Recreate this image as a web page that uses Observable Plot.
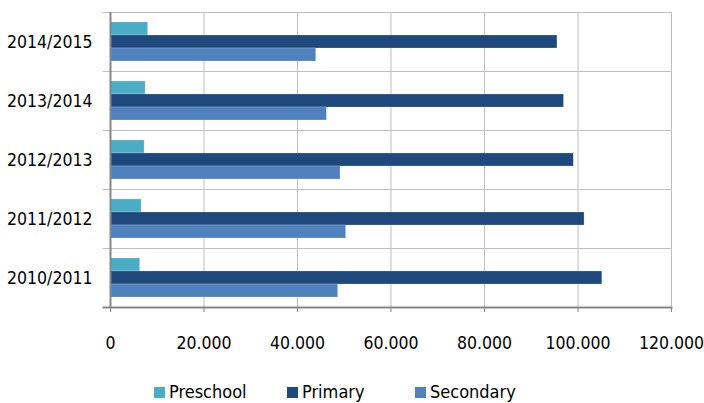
<!DOCTYPE html>
<html>
<head>
<meta charset="utf-8">
<script src="https://cdn.jsdelivr.net/npm/d3@7"></script>
<script src="https://cdn.jsdelivr.net/npm/@observablehq/plot@0.6"></script>
<style>
  html, body { margin: 0; padding: 0; background: #fff; }
  #wrap { position: relative; width: 704px; height: 403px; overflow: hidden; font-family: "DejaVu Sans Condensed", sans-serif; }
  #legend { position: absolute; left: 154px; top: 382px; display: flex; font-size: 18px; line-height: 20px; color: #000; }
  .item { display: flex; align-items: center; }
  .sw { width: 11px; height: 11px; margin-right: 4px; }
</style>
</head>
<body>
<div id="wrap"><div id="chart"></div><div id="legend"></div></div>
<script>
const years = ["2014/2015", "2013/2014", "2012/2013", "2011/2012", "2010/2011"];
const series = ["Preschool", "Primary", "Secondary"];
const preschool = [8050, 7500, 7300, 6650, 6350];
const primary = [95600, 97000, 99100, 101400, 105200];
const secondary = [44000, 46300, 49200, 50400, 48700];
const xTicks = [0, 20000, 40000, 60000, 80000, 100000, 120000];
const colors = ["#4BACC6", "#1F497D", "#4F81BD"];

const values = {Preschool: preschool, Primary: primary, Secondary: secondary};
const rows = [];
years.forEach((yr, i) => series.forEach(s => rows.push({year: yr, series: s, value: values[s][i]})));

const fmt = d => d3.format(",")(d).replace(/,/g, ".");
const font = '"DejaVu Sans Condensed", sans-serif';

const chart = Plot.plot({
  width: 704,
  height: 370,
  marginLeft: 110,
  marginRight: 33,
  marginTop: 11,
  marginBottom: 62,
  style: {fontFamily: font, fontSize: "17.5px", color: "#000", background: "#fff"},
  x: {domain: [0, 120000], ticks: xTicks},
  fy: {domain: years, padding: 0, label: null, axis: null},
  y: {domain: series, paddingInner: 0, paddingOuter: 0.76, axis: null},
  color: {domain: series, range: colors},
  marks: [
    Plot.gridX(xTicks, {stroke: "#BFBFBF", strokeOpacity: 1}),
    Plot.frame({anchor: "top", stroke: "#BFBFBF", strokeOpacity: 1, insetLeft: -7}),
    Plot.barX(rows, {x: "value", y: "series", fy: "year", fill: "series", stroke: "#ffffff", strokeOpacity: 0.4, strokeWidth: 0.5}),
    Plot.ruleX([0], {stroke: "#868686", strokeWidth: 2}),
    Plot.frame({anchor: "bottom", stroke: "#868686", strokeWidth: 2, insetLeft: -7, fy: [years[years.length - 1]]}),
    Plot.axisX(xTicks, {tickSize: 5, tickPadding: 24, stroke: "#868686", tickFormat: fmt, label: null, fontSize: 17.5}),
    Plot.axisFy({anchor: "left", tickSize: 0, tickPadding: 18, label: null, fontSize: 17.5})
  ]
});
document.getElementById("chart").appendChild(chart);

const legend = document.getElementById("legend");
const lefts = [0, 133, 261];
series.forEach((s, i) => {
  const it = document.createElement("div");
  it.className = "item";
  it.style.position = "absolute";
  it.style.left = lefts[i] + "px";
  it.style.whiteSpace = "nowrap";
  const sw = document.createElement("div");
  sw.className = "sw";
  sw.style.background = colors[i];
  const t = document.createElement("span");
  t.textContent = s;
  it.appendChild(sw);
  it.appendChild(t);
  legend.appendChild(it);
});
</script>
</body>
</html>
